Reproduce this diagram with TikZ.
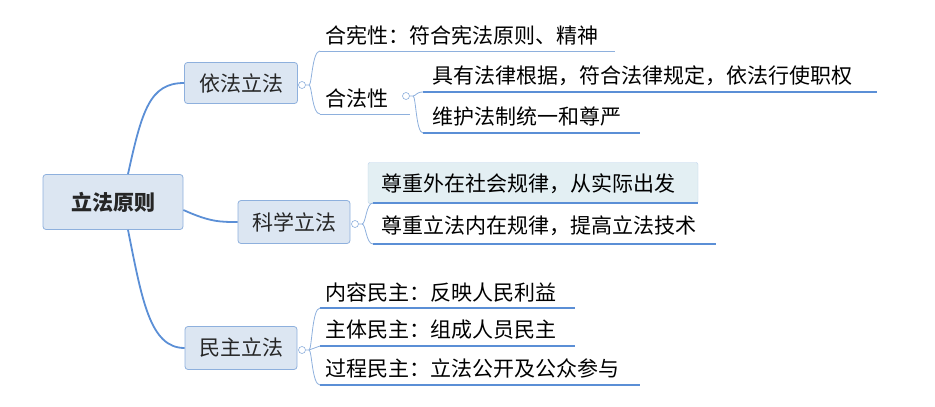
\documentclass[tikz,border=0pt]{standalone}
\usepackage{fontspec}
\newfontfamily\cjk{Noto Sans CJK SC}
\usetikzlibrary{positioning}
\definecolor{linkblue}{HTML}{5B8FD6}
\definecolor{boxfill}{HTML}{DCE6F2}
\definecolor{boxdraw}{HTML}{8EB0DD}
\definecolor{hifill}{HTML}{E3EFF3}
\tikzset{
  topic/.style={draw=boxdraw,fill=boxfill,rounded corners=3pt,line width=0.8pt,inner sep=0pt,text=black!85},
  leaf/.style={anchor=base west,inner sep=0pt},
  uline/.style={draw=linkblue,line width=1.6pt},
  thinline/.style={draw=boxdraw,line width=0.8pt},
  link/.style={draw=linkblue,line width=1.8pt},
  fold/.style={draw=boxdraw,fill=white,circle,inner sep=0pt,minimum size=7pt,line width=0.6pt},
}
\begin{document}
\begin{tikzpicture}[x=1pt,y=-1pt,font=\cjk\fontsize{21}{24}\selectfont]
  \useasboundingbox (0,0) rectangle (935,407);
  % main topics
  \node[topic,minimum width=140pt,minimum height=55pt,font=\cjk\bfseries\fontsize{21}{24}\selectfont] (root) at (113,202) {立法原则};
  \node[topic,minimum width=113pt,minimum height=41pt] (yifa) at (241,83) {依法立法};
  \node[topic,minimum width=112pt,minimum height=43pt] (kexue) at (294,222) {科学立法};
  \node[topic,minimum width=112pt,minimum height=43pt] (minzhu) at (241,348) {民主立法};
  \draw[link] (root.north)+(15,0) .. controls (142,110) and (150,83) .. (yifa.west);
  \draw[link] (root.east)+(0,8) .. controls (210,222) and (220,222) .. (kexue.west);
  \draw[link] (root.south)+(15,0) .. controls (142,300) and (150,348) .. (minzhu.west);
  \node[fold] (f1) at (302,85) {};
  \node[fold] (f2) at (355,224) {};
  \node[fold] (f3) at (302,350) {};
  \node[fold] (f4) at (406,96) {};
  % leaves
  \node[leaf] (hexian) at (325,43) {合宪性：符合宪法原则、精神};
  \node[leaf] (hefa) at (325,106) {合法性};
  \node[leaf] (juyou) at (432,83) {具有法律根据，符合法律规定，依法行使职权};
  \node[leaf] (weihu) at (432,124) {维护法制统一和尊严};
  \node[draw=boxdraw!60,fill=hifill,rounded corners=2pt,minimum width=330pt,minimum height=41pt] (waizai) at (533,183) {};
  \node[leaf] (waizaitxt) at (381,191) {尊重外在社会规律，从实际出发};
  \node[leaf] (neizai) at (381,233) {尊重立法内在规律，提高立法技术};
  \node[leaf] (neirong) at (325,300) {内容民主：反映人民利益};
  \node[leaf] (zhuti) at (325,337) {主体民主：组成人员民主};
  \node[leaf] (guocheng) at (325,376) {过程民主：立法公开及公众参与};
  % underlines
  \coordinate (u1) at (320,51); \draw[thinline] (u1) -- (615,51);
  \coordinate (u2) at (320,114); \draw[thinline] (u2) -- (410,114);
  \coordinate (u3) at (423,92); \draw[uline] (u3) -- (877,92);
  \coordinate (u4) at (423,133); \draw[uline] (u4) -- (640,133);
  \coordinate (u5) at (373,203); \draw[uline] (u5) -- (698,203);
  \coordinate (u6) at (373,244); \draw[uline] (u6) -- (716,244);
  \coordinate (u7) at (320,308); \draw[uline] (u7) -- (575,308);
  \coordinate (u8) at (320,346); \draw[uline] (u8) -- (575,346);
  \coordinate (u9) at (320,385); \draw[uline] (u9) -- (640,385);
  % brackets
  \tikzset{br/.style={draw=boxdraw,line width=0.8pt}}
  \draw[br] (f1.east) -- (309,85) .. controls (312,85) and (312,51) .. (u1);
  \draw[br] (309,85) .. controls (312,85) and (312,114) .. (u2);
  \draw[br] (f4.east) -- (413,96) .. controls (416,96) and (416,92) .. (u3);
  \draw[br] (413,96) .. controls (416,96) and (416,133) .. (u4);
  \draw[br] (f2.east) -- (362,224) .. controls (366,224) and (366,203) .. (u5);
  \draw[br] (362,224) .. controls (366,224) and (366,244) .. (u6);
  \draw[br] (f3.east) -- (309,350) .. controls (312,350) and (312,308) .. (u7);
  \draw[br] (309,350) -- (u8);
  \draw[br] (309,350) .. controls (312,350) and (312,385) .. (u9);
\end{tikzpicture}
\end{document}
